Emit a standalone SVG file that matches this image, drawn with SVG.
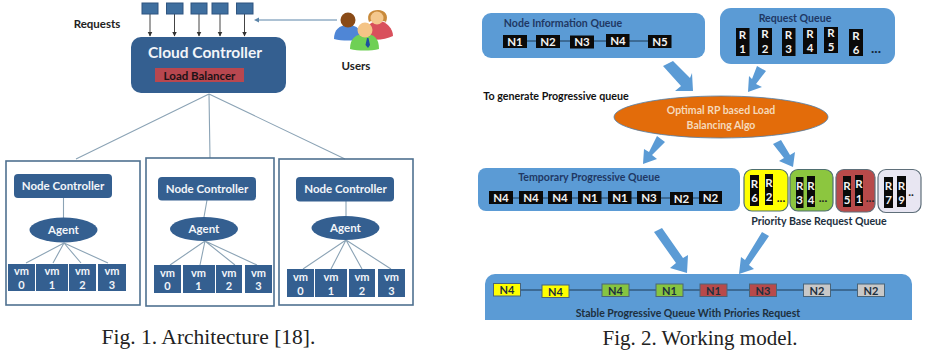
<svg xmlns="http://www.w3.org/2000/svg" width="927" height="352" viewBox="0 0 927 352">
<style>
text{font-family:Lato,"Noto Sans","Liberation Sans",sans-serif;font-weight:700;text-anchor:middle}
.blue{fill:#345f90}
.frame{fill:none;stroke:#4f7190;stroke-width:1.6}
.w{fill:#f2f5f9}
.nc{font-size:11.500px}
.vm{font-size:11px}
.cap{font-family:"Liberation Serif",serif;font-weight:400;font-size:21px;fill:#222}
.lbl{fill:#222}
.wire{stroke:#8ba3b5;stroke-width:1.1;fill:none}
.flow{fill:#5b9bd5}
.panel{fill:#5b9bd5}
.qt{fill:#1f3864;font-size:10.600px}
.k{fill:#0a0a0a}
.kt{fill:#f2f2f2;font-size:11.500px}
.link{stroke:#1f3a55;stroke-width:1;fill:none}
.tag{stroke:#4a6478;stroke-width:1}
.tt{fill:#1d2f3d;font-size:11px}
</style>
<defs>
<marker id="tip" markerWidth="6" markerHeight="6" refX="4.500" refY="2.500" orient="auto"><path d="M0 0L5 2.500L0 5z" fill="#333"/></marker>
<marker id="tipb" markerWidth="6" markerHeight="6" refX="0" refY="2.500" orient="auto"><path d="M0 0L5 2.500L0 5z" fill="#5b84a8"/></marker>
</defs>

<g id="connectors">
<g stroke="#444" stroke-width="1">
<path d="M150 14V36" marker-end="url(#tip)"/><path d="M174.500 14V36" marker-end="url(#tip)"/><path d="M199 14V36" marker-end="url(#tip)"/><path d="M220 14V36" marker-end="url(#tip)"/><path d="M244.500 14V36" marker-end="url(#tip)"/>
</g>
<path d="M337 20H259" stroke="#5b84a8" stroke-width="1" marker-end="url(#tipb)"/>
<path class="wire" d="M209 94L76 159M209 94L210 158M209 94L345 159"/>
<path class="wire" d="M63.500 198V218M64 243L26 263M64 243L53 263M64 243L81 263M64 243L108 263"/>
<path class="wire" d="M207 200L204 217M205 241L170 265M205 241L200 265M205 241L235 265M205 241L257 265"/>
<path class="wire" d="M346 201V216M346 240L303 269M346 240L331 269M346 240L362 269M346 240L391 269"/>
<g class="flow">
<polygon points="663,66 673,61 690,78 692,73 693,91 675,91 681,86"/>
<polygon points="757,66 766,71 756,84 762,87 748,92 749,76 752,79"/>
<polygon points="657,136 665,142 652,155 657,159 643,164 644,149 649,152"/>
<polygon points="773,144 781,140 790,155 795,152 793,167 779,161 784,158"/>
<polygon points="654,232 662,228 683,258 688,255 687,273 670,268 676,263"/>
<polygon points="762,232 769,236 749,265 754,269 739,274 741,257 745,260"/>
</g>
</g>

<g id="request-slots" fill="#3f6f9f" stroke="#2f5580" stroke-width="1">
<rect x="142" y="3" width="16" height="11"/><rect x="166.500" y="3" width="16.500" height="11"/><rect x="191" y="3" width="16" height="11"/><rect x="212" y="3" width="16" height="11"/><rect x="236.500" y="3" width="16.500" height="11"/>
</g>
<text id="requests-label" class="lbl" x="97" y="28" font-size="11.500">Requests</text>

<g id="cloud-controller">
<rect class="blue" x="131" y="37" width="155" height="56" rx="10"/>
<text class="w" x="205" y="58" font-size="15.500">Cloud Controller</text>
<rect x="155" y="68" width="89" height="14" fill="#b8474f"/>
<text x="199.500" y="79.500" font-size="11.500" fill="#1e1216">Load Balancer</text>
</g>

<g id="users">
<path d="M365 38c0-9 4-17 13-17s15 8 15 15c-8 4-20 5-28 2z" fill="#d9505c"/>
<path d="M369 22c-3-8 2-12 9-12s11 5 8 12c-3-2-14-2-17 0z" fill="#c98a3a"/>
<circle cx="377" cy="18" r="6.500" fill="#f4c88e"/>
<path d="M334 39c0-9 5-14 14-14s14 5 14 14c-8 2-20 2-28 0z" fill="#4f86d6"/>
<circle cx="348" cy="20" r="7.500" fill="#8a4b17"/>
<path d="M350 49c0-11 6-15 15-15s14 4 14 15c-8 2-21 2-29 0z" fill="#6fd055"/>
<circle cx="365" cy="30" r="7.500" fill="#f4c486"/>
<path d="M367 38l-1.500 7 2.500 3 2-3-1.500-7z" fill="#1d4fa0"/>
</g>
<text id="users-label" class="lbl" x="356" y="70" font-size="11.500">Users</text>

<g id="node-1">
<rect class="frame" x="6" y="161" width="134" height="144"/>
<rect class="blue" x="14" y="174" width="98" height="24" rx="4"/>
<text class="w nc" x="63" y="190">Node Controller</text>
<ellipse class="blue" cx="63.500" cy="230" rx="34" ry="12.500"/>
<text class="w nc" x="63.500" y="234">Agent</text>
<g class="blue"><rect x="8" y="264" width="27" height="27"/><rect x="36" y="264" width="32" height="27"/><rect x="69" y="264" width="27" height="27"/><rect x="98" y="264" width="28" height="27"/></g>
<g class="w vm"><text x="21.500" y="275">vm</text><text x="21.500" y="289">0</text><text x="52" y="275">vm</text><text x="52" y="289">1</text><text x="82.500" y="275">vm</text><text x="82.500" y="289">2</text><text x="112" y="275">vm</text><text x="112" y="289">3</text></g>
</g>

<g id="node-2">
<rect class="frame" x="146" y="158" width="128" height="148"/>
<rect class="blue" x="158" y="177" width="98" height="23.500" rx="4"/>
<text class="w nc" x="207" y="193">Node Controller</text>
<ellipse class="blue" cx="204" cy="229" rx="34" ry="12"/>
<text class="w nc" x="204" y="233">Agent</text>
<g class="blue"><rect x="154" y="265" width="27" height="28"/><rect x="183" y="265" width="32" height="28"/><rect x="216" y="265" width="26" height="28"/><rect x="245" y="265" width="27" height="28"/></g>
<g class="w vm"><text x="167.500" y="277">vm</text><text x="167.500" y="290">0</text><text x="198.500" y="277">vm</text><text x="198.500" y="290">1</text><text x="229" y="277">vm</text><text x="229" y="290">2</text><text x="258.500" y="277">vm</text><text x="258.500" y="290">3</text></g>
</g>

<g id="node-3">
<rect class="frame" x="279" y="159" width="134" height="146"/>
<rect class="blue" x="296" y="177" width="98" height="24.500" rx="4"/>
<text class="w nc" x="345.500" y="193">Node Controller</text>
<ellipse class="blue" cx="345.500" cy="228" rx="34" ry="12"/>
<text class="w nc" x="345.500" y="232">Agent</text>
<g class="blue"><rect x="287" y="269" width="27" height="28"/><rect x="315" y="269" width="32" height="28"/><rect x="349" y="269" width="26" height="28"/><rect x="378" y="269" width="27" height="28"/></g>
<g class="w vm"><text x="300.500" y="281">vm</text><text x="300.500" y="295">0</text><text x="331" y="281">vm</text><text x="331" y="295">1</text><text x="362" y="281">vm</text><text x="362" y="295">2</text><text x="391.500" y="281">vm</text><text x="391.500" y="295">3</text></g>
</g>

<text id="caption-1" class="cap" x="208.500" y="344" style="font-size:21.500px">Fig. 1. Architecture [18].</text>

<g id="node-information-queue">
<rect class="panel" x="482" y="13" width="223" height="45" rx="9"/>
<text class="qt" x="563" y="27">Node Information Queue</text>
<path class="link" d="M515 41H660"/>
<g class="k"><rect x="503" y="35" width="24" height="13"/><rect x="536" y="35" width="24" height="13"/><rect x="570" y="35.500" width="24" height="13"/><rect x="606" y="34" width="23.500" height="13"/><rect x="648" y="35" width="23.500" height="13"/></g>
<g class="kt"><text x="515" y="46">N1</text><text x="548" y="46">N2</text><text x="582" y="46">N3</text><text x="618" y="45">N4</text><text x="660" y="46">N5</text></g>
</g>

<g id="request-queue">
<rect class="panel" x="720" y="8" width="175" height="56" rx="11"/>
<text class="qt" x="795" y="22">Request Queue</text>
<g class="k"><rect x="736" y="28" width="13.500" height="28"/><rect x="758" y="28" width="14" height="27"/><rect x="782" y="28" width="13.500" height="28"/><rect x="803" y="28" width="14" height="26"/><rect x="824" y="27" width="14" height="26"/><rect x="849" y="29" width="14" height="27"/></g>
<g class="kt"><text x="742.500" y="39">R</text><text x="742.500" y="53">1</text><text x="765" y="38">R</text><text x="765" y="53">2</text><text x="788.500" y="39">R</text><text x="788.500" y="53">3</text><text x="810" y="38">R</text><text x="810" y="52">4</text><text x="831" y="37">R</text><text x="831" y="51">5</text><text x="856" y="40">R</text><text x="856" y="54">6</text></g>
<text x="876" y="53" font-size="14" fill="#14283c">...</text>
</g>

<text id="generate-label" x="556" y="100" font-size="10.700" fill="#111">To generate Progressive queue</text>

<g id="load-balancing-algo">
<ellipse cx="721" cy="117" rx="107" ry="21" fill="#e36c0a" stroke="#4f7ea8" stroke-width="0.800"/>
<text x="721" y="114" font-size="10.500" fill="#f5d9bb">Optimal RP based Load</text>
<text x="721" y="128.500" font-size="10.500" fill="#f5d9bb">Balancing Algo</text>
</g>

<g id="temporary-progressive-queue">
<rect class="panel" x="478" y="168" width="262" height="43" rx="8"/>
<text class="qt" x="589" y="181">Temporary Progressive Queue</text>
<path class="link" d="M501 198H711"/>
<g class="k"><rect x="489" y="191" width="24" height="13"/><rect x="519" y="191" width="24" height="13"/><rect x="548" y="191" width="24" height="13"/><rect x="578" y="191" width="23.500" height="13"/><rect x="608" y="191" width="23.500" height="13"/><rect x="637" y="191" width="24" height="13"/><rect x="670" y="192" width="23" height="13"/><rect x="699" y="191" width="23" height="13"/></g>
<g class="kt"><text x="501" y="202">N4</text><text x="531" y="202">N4</text><text x="560" y="202">N4</text><text x="590" y="202">N1</text><text x="620" y="202">N1</text><text x="649" y="202">N3</text><text x="681.500" y="203">N2</text><text x="710.500" y="202">N2</text></g>
</g>

<g id="priority-yellow">
<rect x="744" y="169.500" width="44" height="41.500" rx="8" fill="#ffff00" stroke="#4f6f70" stroke-width="1.200"/>
<g class="k"><rect x="750" y="175" width="9" height="31"/><rect x="765" y="174" width="8" height="31"/></g>
<g class="kt"><text x="754.500" y="188">R</text><text x="754.500" y="202">6</text><text x="769" y="187">R</text><text x="769" y="201">2</text></g>
<text x="781" y="202" font-size="12" fill="#222">...</text>
</g>
<g id="priority-green">
<rect x="790" y="169.500" width="43" height="41.500" rx="8" fill="#8cc63f" stroke="#4f6f70" stroke-width="1.200"/>
<g class="k"><rect x="796" y="177" width="7.500" height="31"/><rect x="807" y="176" width="8" height="31"/></g>
<g class="kt"><text x="799.700" y="190">R</text><text x="799.700" y="204">3</text><text x="811" y="190">R</text><text x="811" y="204">4</text></g>
<text x="823" y="202" font-size="12" fill="#222">...</text>
</g>
<g id="priority-red">
<rect x="836" y="169.500" width="39" height="42.500" rx="8" fill="#b84a4a" stroke="#5f6f7a" stroke-width="1.200"/>
<g class="k"><rect x="843" y="176" width="8" height="31"/><rect x="855" y="175" width="8" height="31"/></g>
<g class="kt"><text x="847" y="190">R</text><text x="847" y="204">5</text><text x="859" y="188">R</text><text x="859" y="203">1</text></g>
<text x="870" y="202" font-size="12" fill="#222">...</text>
</g>
<g id="priority-lavender">
<rect x="878" y="169.500" width="43" height="43" rx="8" fill="#e8e6f2" stroke="#5f6f7a" stroke-width="1.200"/>
<g class="k"><rect x="884" y="177" width="9" height="31"/><rect x="897" y="176" width="9" height="31"/></g>
<g class="kt"><text x="888.500" y="190">R</text><text x="888.500" y="204">7</text><text x="901.500" y="190">R</text><text x="901.500" y="204">9</text></g>
<text x="911" y="196" font-size="12" fill="#222">..</text>
</g>
<text id="priority-label" x="819" y="225" font-size="10.600" fill="#1d2f3d">Priority Base Request Queue</text>

<g id="stable-progressive-queue">
<path class="panel" d="M485 320V284a10 10 0 0 1 10-10H902a10 10 0 0 1 10 10V320z"/>
<path class="link" d="M505 290H870"/>
<g class="tag">
<rect x="493.500" y="283.500" width="27" height="12.500" fill="#ffff00"/><rect x="542" y="285" width="27" height="12.500" fill="#ffff00"/><rect x="602" y="284" width="27" height="12.500" fill="#86c440"/><rect x="656" y="284" width="27" height="12.500" fill="#86c440"/><rect x="700" y="284" width="27" height="12.500" fill="#b84a4a"/><rect x="749.500" y="284" width="27" height="12.500" fill="#b84a4a"/><rect x="803.500" y="284" width="27" height="12.500" fill="#c8c8c8"/><rect x="857.500" y="284" width="27" height="12.500" fill="#c8c8c8"/>
</g>
<g class="tt"><text x="507" y="294">N4</text><text x="555.500" y="295.500">N4</text><text x="615.500" y="294.500">N4</text><text x="669.500" y="294.500">N1</text><text x="713.500" y="294.500">N1</text><text x="763" y="294.500">N3</text><text x="817" y="294.500">N2</text><text x="871" y="294.500">N2</text></g>
<text class="tt" x="688" y="317" style="font-size:10.500px">Stable Progressive Queue With Priories Request</text>
</g>

<text id="caption-2" class="cap" x="700" y="345">Fig. 2. Working model.</text>
</svg>
